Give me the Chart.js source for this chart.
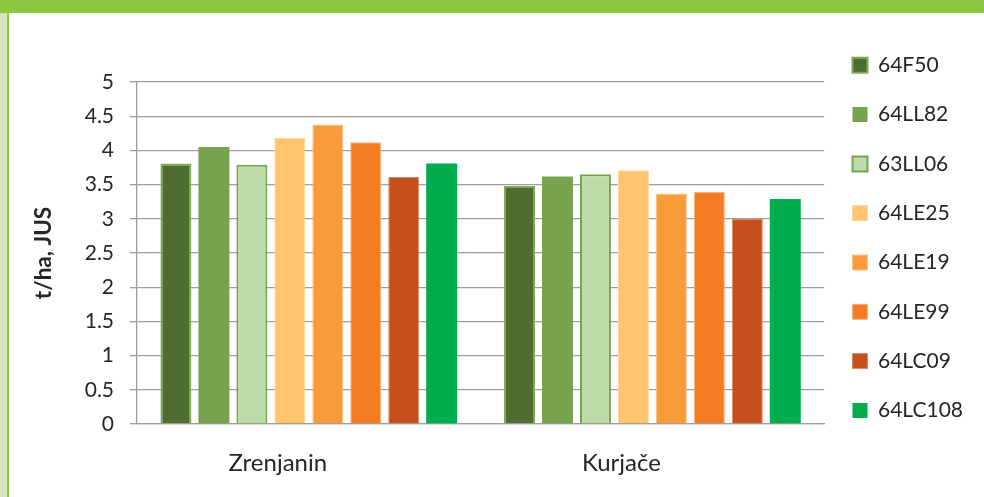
<!DOCTYPE html>
<html>
<head>
<meta charset="utf-8">
<script src="https://cdn.jsdelivr.net/npm/chart.js@4"></script>
<style>
  html, body { margin: 0; padding: 0; background: #ffffff; }
  #wrap { position: relative; width: 984px; height: 497px; overflow: hidden; background: #ffffff; }
  #topbar { position: absolute; left: 0; top: 0; width: 984px; height: 13px; background: #8DC63F; }
  #leftpale { position: absolute; left: 0; top: 13px; width: 7px; height: 484px; background: #D3E7BD; }
  #leftline { position: absolute; left: 7px; top: 13px; width: 2px; height: 484px; background: #8DC63F; }
  canvas { position: absolute; left: 0; top: 0; }
</style>
</head>
<body>
<div id="wrap">
  <div id="topbar"></div>
  <div id="leftpale"></div>
  <div id="leftline"></div>
  <canvas id="c" width="984" height="497"></canvas>
</div>
<script>
const categories = ['Zrenjanin', 'Kurjače'];
const seriesNames = ['64F50', '64LL82', '63LL06', '64LE25', '64LE19', '64LE99', '64LC09', '64LC108'];
const v64F50   = [3.81, 3.48];
const v64LL82  = [4.05, 3.62];
const v63LL06  = [3.79, 3.65];
const v64LE25  = [4.18, 3.71];
const v64LE19  = [4.38, 3.37];
const v64LE99  = [4.12, 3.39];
const v64LC09  = [3.61, 3.00];
const v64LC108 = [3.81, 3.29];
const seriesValues = [v64F50, v64LL82, v63LL06, v64LE25, v64LE19, v64LE99, v64LC09, v64LC108];
const yTicks = [0, 0.5, 1, 1.5, 2, 2.5, 3, 3.5, 4, 4.5, 5];
const yTitle = 't/ha, JUS';

const fills   = ['#4F6D31', '#77A34F', '#BDDBA6', '#FEC46E', '#F89C3A', '#F47C22', '#C54F1D', '#00AC4E'];
const borders = ['#7DAA57', '#77A34F', '#77A34F', '#FED79C', '#FBC18A', '#F9B27E', '#DB8A66', '#00AC4E'];
const bWidths = [2, 0, 2, 1, 1, 1, 1, 0];

const FONT = 'Lato, "Open Sans", sans-serif';
const TXT = '#262626';
const GRID = '#9E9E9E';

const datasets = seriesNames.map((name, i) => ({
  label: name,
  data: seriesValues[i],
  backgroundColor: fills[i],
  borderColor: borders[i],
  borderWidth: bWidths[i],
  categoryPercentage: 0.884,
  barPercentage: 0.816
}));

new Chart(document.getElementById('c'), {
  type: 'bar',
  data: { labels: categories, datasets },
  options: {
    responsive: false,
    animation: false,
    layout: { padding: { left: 18, right: 11, top: 26.5, bottom: -5 } },
    plugins: {
      tooltip: { enabled: false },
      title: {
        display: true, text: '', fullSize: false, position: 'top',
        font: { size: 10, lineHeight: 1 }, padding: { top: 45.5, bottom: 0 }
      },
      legend: {
        position: 'right', align: 'start', fullSize: true,
        labels: {
          boxWidth: 15, boxHeight: 15, padding: 28.3, color: TXT,
          font: { family: FONT, size: 21 }
        }
      }
    },
    scales: {
      x: {
        grid: { display: false, drawTicks: false },
        border: { display: true, color: GRID, width: 1.3 },
        ticks: { color: TXT, font: { family: FONT, size: 24 }, padding: 24.6, labelOffset: -31 }
      },
      y: {
        min: 0, max: 5,
        afterBuildTicks: (s) => { s.ticks = yTicks.map(v => ({ value: v })); },
        grid: { color: GRID, lineWidth: 1.3, tickLength: 7, tickColor: GRID, drawTicks: true },
        border: { display: true, color: GRID, width: 1.3 },
        ticks: { color: TXT, font: { family: FONT, size: 21 }, padding: 16, callback: (v) => String(v) },
        title: {
          display: true, text: yTitle, color: TXT,
          font: { family: FONT, size: 22.5, weight: 'bold', lineHeight: 1.2 },
          padding: { top: 12.5, bottom: 11.2 }
        }
      }
    }
  }
});
</script>
</body>
</html>
